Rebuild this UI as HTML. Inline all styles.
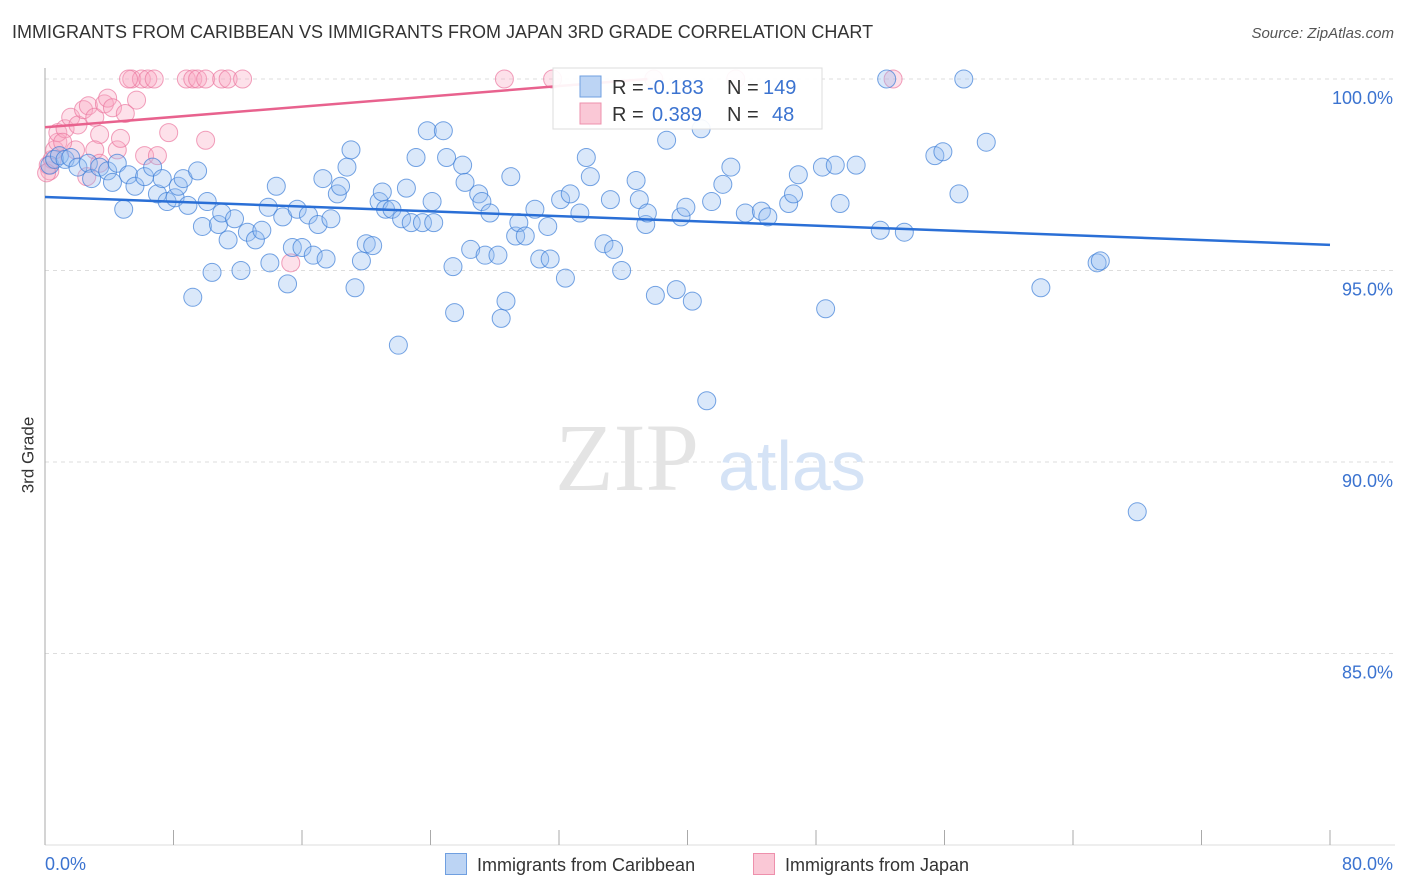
<!DOCTYPE html>
<html><head><meta charset="utf-8"><style>
body{margin:0;background:#fff;font-family:"Liberation Sans",sans-serif;}
#wrap{position:relative;width:1406px;height:892px;overflow:hidden;}
.t{position:absolute;white-space:nowrap;}
</style></head><body><div id="wrap">
<div class="t" style="left:12px;top:22px;font-size:18px;color:#333;">IMMIGRANTS FROM CARIBBEAN VS IMMIGRANTS FROM JAPAN 3RD GRADE CORRELATION CHART</div>
<div class="t" style="right:12px;top:25px;font-size:15px;color:#555;font-style:italic;">Source: ZipAtlas.com</div>
<div class="t" style="left:-10px;top:445px;font-size:17px;color:#333;transform:rotate(-90deg);">3rd Grade</div>
<svg id="svg" width="1406" height="892" style="position:absolute;left:0;top:0;"></svg>
<div class="t" style="left:445px;top:853px;font-size:18px;color:#333;"><span style="display:inline-block;width:20px;height:20px;background:#bcd4f4;border:1px solid #6f9fe0;vertical-align:-4px;margin-right:10px;"></span>Immigrants from Caribbean</div>
<div class="t" style="left:753px;top:853px;font-size:18px;color:#333;"><span style="display:inline-block;width:20px;height:20px;background:#fac8d6;border:1px solid #ee90ac;vertical-align:-4px;margin-right:10px;"></span>Immigrants from Japan</div>
</div>
<script>
const blueX=[0.3,0.6,0.9,1.25,1.6,2.05,2.7,2.9,3.4,3.9,4.2,4.5,4.9,5.2,5.6,6.2,6.7,7.0,7.3,7.6,8.1,8.3,8.6,8.9,9.2,9.5,9.8,10.1,10.4,10.8,11.0,11.4,11.8,12.2,12.6,13.1,13.5,13.9,14.0,14.4,14.8,15.1,15.4,15.7,16.0,16.4,16.7,17.0,17.3,17.5,17.8,18.2,18.4,18.8,19.05,19.3,19.7,20.0,20.4,20.8,21.0,21.2,21.6,22.0,22.2,22.5,22.8,23.1,23.5,23.8,24.1,24.2,24.8,25.0,25.4,25.5,26.0,26.15,26.5,27.0,27.2,27.4,27.7,28.2,28.4,28.7,29.0,29.3,29.5,29.9,30.5,30.8,31.3,31.45,32.1,32.4,32.7,33.3,33.7,33.95,34.8,35.4,35.2,35.9,36.8,37.0,37.4,37.5,38.0,38.7,39.3,39.6,39.9,40.3,40.85,41.2,41.5,42.2,42.7,43.6,44.6,45.0,46.3,46.6,46.9,48.4,48.6,49.2,49.5,50.5,52.0,52.4,53.5,55.4,55.9,56.9,57.2,58.6,62.0,65.5,65.7,68.0];
const blueY=[97.75,97.9,98.0,97.9,97.95,97.7,97.8,97.4,97.7,97.6,97.3,97.8,96.6,97.5,97.2,97.45,97.7,97.0,97.4,96.8,96.9,97.2,97.4,96.7,94.3,97.6,96.15,96.8,94.95,96.2,96.5,95.8,96.35,95.0,96.0,95.8,96.05,96.65,95.2,97.2,96.4,94.65,95.6,96.6,95.6,96.45,95.4,96.2,97.4,95.3,96.35,97.0,97.2,97.7,98.15,94.55,95.25,95.7,95.65,96.8,97.05,96.6,96.6,93.05,96.35,97.15,96.25,97.95,96.25,98.65,96.8,96.25,98.65,97.95,95.1,93.9,97.75,97.3,95.55,97.0,96.8,95.4,96.5,95.4,93.75,94.2,97.45,95.9,96.25,95.9,96.6,95.3,96.15,95.3,96.85,94.8,97.0,96.5,97.95,97.45,95.7,95.55,96.85,95.0,97.35,96.85,96.2,96.5,94.35,98.4,94.5,96.4,96.65,94.2,98.7,91.6,96.8,97.25,97.7,96.5,96.55,96.4,96.75,97.0,97.5,97.7,94.0,97.75,96.75,97.75,96.05,100.0,96.0,98.0,98.1,97.0,100.0,98.35,94.55,95.2,95.25,88.7];
const pinkX=[0.3,0.2,0.45,0.6,0.8,0.8,1.25,1.6,2.05,2.4,2.7,3.1,3.4,3.7,3.9,4.2,4.5,4.7,5.0,5.4,5.7,6.0,6.4,6.8,6.2,7.0,7.7,8.8,9.2,9.5,10.0,10.0,11.0,11.4,12.3,15.3,28.6,31.6,37.9,43.0,52.8,5.2,1.9,3.1,1.1,3.4,2.6,0.1];
const pinkY=[97.6,97.75,97.9,98.15,98.35,98.6,98.7,99.0,98.8,99.2,99.3,99.0,98.55,99.35,99.5,99.25,98.15,98.45,99.1,100,99.45,100,100,100,98.0,98.0,98.6,100,100,100,100,98.4,100,100,100,95.2,100,100,100,100,100,100,98.15,98.15,98.35,97.8,97.45,97.55];
const blueTrend=[96.92,95.67];
const pinkTrendX=[0,37.5];
const pinkTrend=[98.74,100.0];
const yTicks=[100,95,90,85];
const yTickLabels=["100.0%","95.0%","90.0%","85.0%"];
const xTickCount=10;

const NS="http://www.w3.org/2000/svg";
const svg=document.getElementById('svg');
const X0=45,X1=1330,Y100=79,PPY=38.3;
const sx=v=>X0+(v/80)*(X1-X0);
const sy=v=>Y100+(100-v)*PPY;
function mk(tag,attrs){const e=document.createElementNS(NS,tag);for(const k in attrs)e.setAttribute(k,attrs[k]);svg.appendChild(e);return e;}
yTicks.forEach((t,i)=>{
 const g=mk('line',{x1:X0,x2:1395,y1:sy(t),y2:sy(t),stroke:'#ddd','stroke-dasharray':'4,4'});
 
 
 const tx=mk('text',{x:1393,y:sy(t)+25,'text-anchor':'end','font-size':18,fill:'#3b73d0','font-family':'Liberation Sans, sans-serif'});
 tx.textContent=yTickLabels[i];
 
 
});
const ax=mk('line',{x1:X0,x2:X0,y1:68,y2:845,stroke:'#aaa'});


const bx=mk('line',{x1:X0,x2:1395,y1:845,y2:845,stroke:'#ddd'});


for(let i=0;i<=xTickCount;i++){
 const v=i*80/xTickCount;
 const tk=mk('line',{x1:sx(v),x2:sx(v),y1:830,y2:845,stroke:'#aaa'});
 
 
}
[[0,"0.0%",'start',45],[80,"80.0%",'end',1393]].forEach(a=>{
 const t=mk('text',{x:a[3],y:870,'text-anchor':a[2],'font-size':18,fill:'#3b73d0','font-family':'Liberation Sans, sans-serif'});
 t.textContent=a[1];
 
 
});
const w1=mk('text',{x:555,y:490,'font-size':96,fill:'#e4e4e4','font-family':'Liberation Serif, serif'});
w1.textContent='ZIP';


const w2=mk('text',{x:718,y:490,'font-size':70,fill:'#d5e3f6','font-family':'Liberation Sans, sans-serif'});
w2.textContent='atlas';


pinkX.forEach((x,i)=>{
 const c=mk('circle',{cx:sx(x),cy:sy(pinkY[i]),r:9,fill:'rgba(248,170,195,0.35)',stroke:'rgba(235,120,160,0.7)','stroke-width':1});
 
 
});
blueX.forEach((x,i)=>{
 const c=mk('circle',{cx:sx(x),cy:sy(blueY[i]),r:9,fill:'rgba(150,190,240,0.35)',stroke:'rgba(60,125,215,0.7)','stroke-width':1});
 
 
});
const bl=mk('line',{x1:sx(0),x2:sx(80),y1:sy(blueTrend[0]),y2:sy(blueTrend[1]),stroke:'#2a6fd6','stroke-width':2.5});


const pl=mk('line',{x1:sx(pinkTrendX[0]),x2:sx(pinkTrendX[1]),y1:sy(pinkTrend[0]),y2:sy(pinkTrend[1]),stroke:'#e8628e','stroke-width':2.5});


// legend box
const lg=mk('rect',{x:553,y:68,width:269,height:61,fill:'rgba(255,255,255,0.92)',stroke:'#ddd'});


const s1=mk('rect',{x:580,y:76,width:21,height:21,fill:'#bcd4f4',stroke:'#6f9fe0'});


const s2=mk('rect',{x:580,y:103,width:21,height:21,fill:'#fac8d6',stroke:'#ee90ac'});


function lt(x,y,s,col,name){const t=mk('text',{x:x,y:y,'font-size':20,fill:col,'font-family':'Liberation Sans, sans-serif'});t.textContent=s;}
lt(612,94,'R =','#333','r-label');lt(647,94,'-0.183','#3b73d0','r-value-caribbean');lt(727,94,'N =','#333','n-label');lt(763,94,'149','#3b73d0','n-value-caribbean');
lt(612,121,'R =','#333','r-label');lt(652,121,'0.389','#3b73d0','r-value-japan');lt(727,121,'N =','#333','n-label');lt(772,121,'48','#3b73d0','n-value-japan');
</script>
</body></html>
